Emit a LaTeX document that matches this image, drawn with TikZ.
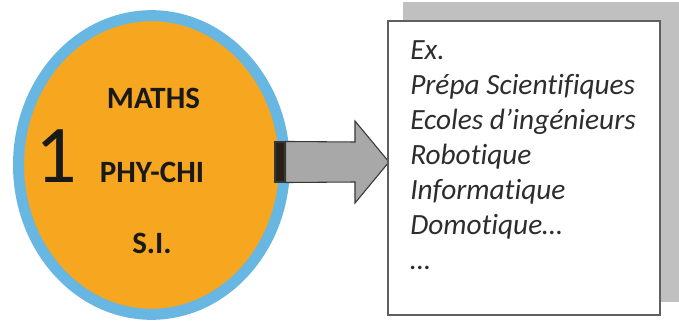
\documentclass[tikz,border=0pt]{standalone}
\usepackage{fontspec}
\setmainfont{Carlito}[Ligatures=NoCommon]
\usetikzlibrary{shapes.geometric}

\definecolor{discorange}{RGB}{247,166,32}
\definecolor{ringblue}{RGB}{104,182,226}
\definecolor{arrowgray}{RGB}{168,168,168}
\definecolor{arrowline}{RGB}{55,55,55}
\definecolor{stripedark}{RGB}{40,32,25}
\definecolor{shadowgray}{RGB}{192,192,192}
\definecolor{framegray}{RGB}{95,95,95}
\definecolor{listtext}{RGB}{45,45,45}

\begin{document}
\begin{tikzpicture}[x=0.75pt,y=-0.75pt,
    disc/.style={ellipse,draw=ringblue,fill=discorange,line width=8.25pt,
      minimum width=199.5pt,minimum height=224pt,inner sep=0pt},
    subject/.style={font=\fontsize{23.25}{28}\selectfont\bfseries,
      text=black!90,inner sep=0pt},
    level/.style={font=\fontsize{61.5}{70}\selectfont,text=black!90,inner sep=0pt},
    stripe/.style={fill=stripedark,draw=arrowline,line width=0.8pt,
      minimum width=7.5pt,minimum height=30pt,inner sep=0pt},
    blockarrow/.style={draw=arrowline,fill=arrowgray,line width=0.8pt,line join=miter},
    listbox/.style={font=\fontsize{22}{26.25}\selectfont\itshape,text=listtext,
      align=left,inner sep=0pt}]
    \useasboundingbox (0,0) rectangle (679,321);
    % disc with the subjects
    \node[disc] (disc) at (151.5,165) {};
    \node[level] (one) at (56.5,156) {1};
    \node[subject] (maths) at (153.5,98) {MATHS};
    \node[subject] (phychi) at (152,172) {PHY-CHI};
    \node[subject] (si) at (152,243) {S.I.};
    % arrow towards the list
    \node[stripe] (tail) at (280,162) {};
    \draw[blockarrow] (tail.north east) -- (355,142) -- (355,121) -- (389,162)
      -- (355,203) -- (355,182) -- (tail.south east) -- cycle;
    % list card with its shadow
    \fill[shadowgray] (403,2) rectangle (679,302);
    \draw[framegray,fill=white,line width=1.5pt] (388,21) rectangle (660,315);
    \node[listbox,anchor=north west] (list) at (410,40)
      {Ex.\\
       Prépa Scientifiques\\
       Ecoles d’ingénieurs\\
       Robotique\\
       Informatique\\
       Domotique…\\
       …};
  \end{tikzpicture}
\end{document}
